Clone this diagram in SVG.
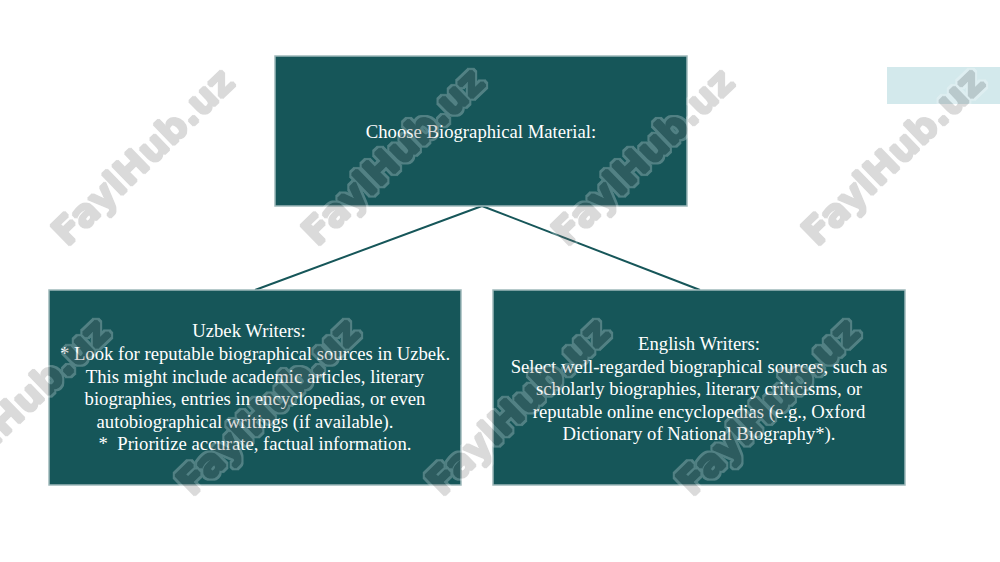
<svg xmlns="http://www.w3.org/2000/svg" width="1000" height="562" viewBox="0 0 1000 562">
<style>
.box{fill:#165659;stroke:#9fb9bb;stroke-width:1.5}
.t{font-family:"Liberation Serif","Times New Roman",serif;font-size:18.7px;fill:#ffffff;text-anchor:middle}
.wm{font-family:"DejaVu Sans","Liberation Sans",sans-serif;font-weight:bold;font-size:38px;fill:#6f6f6f;text-anchor:middle}
.conn{stroke:#165659;stroke-width:2;fill:none}
</style>
<defs>
<filter id="wmf" filterUnits="userSpaceOnUse" x="0" y="0" width="1000" height="562">
<feMorphology in="SourceAlpha" operator="dilate" radius="3.2" result="outer"/>
<feFlood flood-color="#ffffff" result="w"/>
<feComposite in="w" in2="outer" operator="in" result="wo"/>
<feMorphology in="SourceAlpha" operator="dilate" radius="1.4" result="inner"/>
<feFlood flood-color="#6f6f6f" result="g"/>
<feComposite in="g" in2="inner" operator="in" result="gi"/>
<feMerge><feMergeNode in="wo"/><feMergeNode in="gi"/></feMerge>
</filter>
</defs>
<rect width="1000" height="562" fill="#ffffff"/>
<rect x="887" y="67" width="113" height="37" fill="#d3e9ec"/>
<g id="connectors">
<line class="conn" x1="482" y1="206" x2="255" y2="290"/>
<line class="conn" x1="482" y1="206" x2="700" y2="290"/>
</g>
<g id="node-top">
<rect class="box" x="275" y="56" width="412" height="150"/>
<text class="t" x="481" y="138">Choose Biographical Material:</text>
</g>
<g id="node-uzbek">
<rect class="box" x="49" y="290" width="412" height="195"/>
<text class="t"><tspan x="249" y="337">Uzbek Writers:</tspan><tspan x="255" y="360">* Look for reputable biographical sources in Uzbek.</tspan><tspan x="255" y="383">This might include academic articles, literary</tspan><tspan x="255" y="405">biographies, entries in encyclopedias, or even</tspan><tspan x="245" y="428">autobiographical writings (if available).</tspan><tspan x="255" y="450">*&#160; Prioritize accurate, factual information.</tspan></text>
</g>
<g id="node-english">
<rect class="box" x="493" y="290" width="412" height="195"/>
<text class="t"><tspan x="699" y="350">English Writers:</tspan><tspan x="699" y="373">Select well-regarded biographical sources, such as</tspan><tspan x="699" y="395">scholarly biographies, literary criticisms, or</tspan><tspan x="699" y="418">reputable online encyclopedias (e.g., Oxford</tspan><tspan x="699" y="440">Dictionary of National Biography*).</tspan></text>
</g>
<g id="watermarks" opacity="0.26" filter="url(#wmf)">
<text class="wm" transform="translate(152,166) rotate(-44)">FaylHub.uz</text>
<text class="wm" transform="translate(402,166) rotate(-44)">FaylHub.uz</text>
<text class="wm" transform="translate(652,166) rotate(-44)">FaylHub.uz</text>
<text class="wm" transform="translate(902,166) rotate(-44)">FaylHub.uz</text>
<text class="wm" transform="translate(27,416) rotate(-44)">FaylHub.uz</text>
<text class="wm" transform="translate(277,416) rotate(-44)">FaylHub.uz</text>
<text class="wm" transform="translate(527,416) rotate(-44)">FaylHub.uz</text>
<text class="wm" transform="translate(777,416) rotate(-44)">FaylHub.uz</text>
</g>
</svg>
